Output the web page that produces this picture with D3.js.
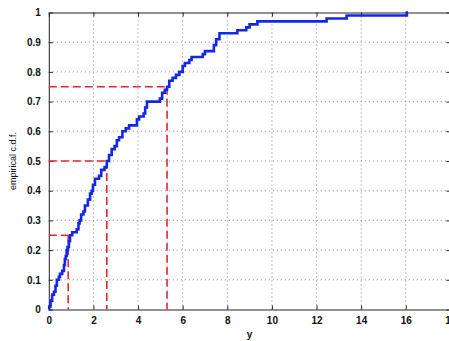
<!DOCTYPE html>
<html>
<head>
<meta charset="utf-8">
<script src="https://cdn.jsdelivr.net/npm/d3@7"></script>
<style>
  body { margin: 0; background: #fff; }
  svg { display: block; font-family: "Liberation Sans", Arial, Helvetica, sans-serif; }
</style>
</head>
<body>
<svg id="chart" width="449" height="341"></svg>
<script>
// Breakpoints of the empirical CDF: jump location and value after the jump
const stepX = [0, 0.02, 0.08, 0.15, 0.23, 0.30, 0.36, 0.45, 0.50, 0.60, 0.68, 0.72, 0.76, 0.80, 0.84,
  0.90, 0.95, 1.05, 1.25, 1.33, 1.38, 1.45, 1.55, 1.62, 1.75, 1.85, 1.92, 1.98, 2.07, 2.25, 2.35,
  2.50, 2.60, 2.70, 2.82, 2.95, 3.05, 3.15, 3.30, 3.45, 3.60, 3.95, 4.05, 4.25, 4.32, 4.40, 4.98,
  5.08, 5.20, 5.30, 5.40, 5.55, 5.70, 5.85, 6.00, 6.10, 6.30, 6.40, 6.90, 7.00, 7.40, 7.50, 7.65,
  8.45, 8.85, 9.00, 9.35, 12.45, 13.35, 16.05, 16.10];
const stepY = [0, 0.01, 0.03, 0.05, 0.06, 0.08, 0.10, 0.11, 0.12, 0.13, 0.15, 0.17, 0.18, 0.20, 0.21,
  0.23, 0.25, 0.26, 0.27, 0.29, 0.30, 0.32, 0.33, 0.35, 0.37, 0.39, 0.40, 0.42, 0.44, 0.45, 0.47,
  0.48, 0.50, 0.52, 0.54, 0.55, 0.57, 0.58, 0.60, 0.61, 0.62, 0.64, 0.65, 0.66, 0.68, 0.70, 0.71,
  0.73, 0.74, 0.75, 0.77, 0.78, 0.79, 0.80, 0.82, 0.83, 0.84, 0.85, 0.86, 0.87, 0.89, 0.91, 0.93,
  0.94, 0.95, 0.96, 0.97, 0.98, 0.99, 1.00, 1.00];

// Quartiles of the sample
const quartileP = [0.25, 0.5, 0.75];
const quartileX = [0.87, 2.6, 5.3];

const xTicks = [0, 2, 4, 6, 8, 10, 12, 14, 16, 18];
const yTicks = [0, 0.1, 0.2, 0.3, 0.4, 0.5, 0.6, 0.7, 0.8, 0.9, 1];
const xTitle = "y";
const yTitle = "empirical c.d.f.";

const svg = d3.select("#chart");
const x = d3.scaleLinear().domain([0, 18]).range([48.8, 450.4]);
const y = d3.scaleLinear().domain([0, 1]).range([309.5, 12.5]);
const [x0, x1] = x.range();
const [y0, y1] = y.range();

// dotted grid
const grid = svg.append("g").attr("stroke", "#8a8a8a").attr("stroke-width", 1)
  .attr("stroke-dasharray", "1,3");
grid.selectAll(".gx").data(xTicks.slice(1, -1)).join("line")
  .attr("x1", d => x(d)).attr("x2", d => x(d)).attr("y1", y0).attr("y2", y1);
grid.selectAll(".gy").data(yTicks.slice(1, -1)).join("line")
  .attr("x1", x0).attr("x2", x1).attr("y1", d => y(d)).attr("y2", d => y(d));

// axes with inward ticks
const fmt = d => d3.format("")(+d.toFixed(1));
const axB = svg.append("g").attr("transform", `translate(0,${y0})`)
  .call(d3.axisBottom(x).tickValues(xTicks).tickSizeInner(-4).tickSizeOuter(0).tickPadding(7).tickFormat(fmt));
const axT = svg.append("g").attr("transform", `translate(0,${y1})`)
  .call(d3.axisTop(x).tickValues(xTicks).tickSizeInner(-4).tickSizeOuter(0).tickFormat(""));
const axL = svg.append("g").attr("transform", `translate(${x0},0)`)
  .call(d3.axisLeft(y).tickValues(yTicks).tickSizeInner(-4).tickSizeOuter(0).tickPadding(8).tickFormat(fmt));
const axR = svg.append("g").attr("transform", `translate(${x1},0)`)
  .call(d3.axisRight(y).tickValues(yTicks).tickSizeInner(-4).tickSizeOuter(0).tickFormat(""));
[axB, axT, axL, axR].forEach(g => {
  g.selectAll("path, line").attr("stroke", "#222").attr("stroke-width", 1);
  g.selectAll("text").attr("fill", "#111").attr("font-size", 10)
    .attr("font-family", "Liberation Sans, Arial, sans-serif").attr("font-weight", "bold");
});

// quartile guides
const q = svg.append("g").attr("stroke", "#e8262b").attr("stroke-width", 1.6)
  .attr("stroke-dasharray", "8,4").attr("fill", "none");
q.selectAll(".h").data(quartileP).join("line")
  .attr("x1", x(0)).attr("x2", (d, i) => x(quartileX[i]))
  .attr("y1", d => y(d)).attr("y2", d => y(d));
q.selectAll(".v").data(quartileP).join("line")
  .attr("x1", (d, i) => x(quartileX[i])).attr("x2", (d, i) => x(quartileX[i]))
  .attr("y1", d => y(d)).attr("y2", y(0));

// ECDF staircase
const pts = stepX.map((d, i) => [d, stepY[i]]);
svg.append("path").datum(pts)
  .attr("fill", "none").attr("stroke", "#1426e6").attr("stroke-width", 2.6)
  .attr("stroke-linejoin", "miter")
  .attr("d", d3.line().x(d => x(d[0])).y(d => y(d[1])).curve(d3.curveStepAfter));

// titles
svg.append("text").attr("x", x(9)).attr("y", 338).attr("text-anchor", "middle")
  .attr("font-size", 10).attr("font-weight", "bold").attr("fill", "#111").text(xTitle);
svg.append("text").attr("transform", `translate(16,${(y0 + y1) / 2}) rotate(-90)`)
  .attr("text-anchor", "middle").attr("font-size", 9).attr("fill", "#111").text(yTitle);
</script>
</body>
</html>
